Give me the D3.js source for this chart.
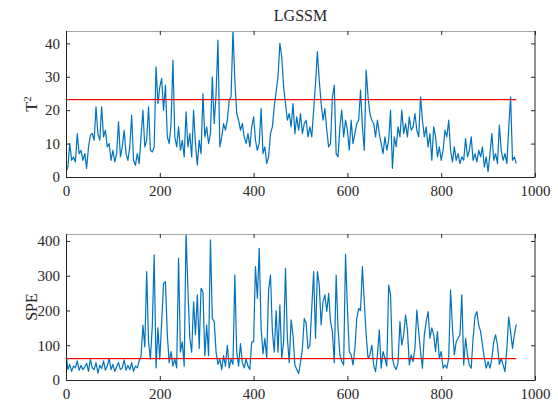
<!DOCTYPE html>
<html>
<head>
<meta charset="utf-8">
<script src="https://cdn.jsdelivr.net/npm/d3@7"></script>
<style>
  body { margin: 0; background: #fff; }
  text { font-family: "Liberation Serif", "Times New Roman", serif; fill: #262626; }
</style>
</head>
<body>
<svg id="chart"></svg>
<script>
// sample spacing of the values below (one value every 4 samples)
const sampleStep = 4;

// T^2 statistic, samples 0..960
const t2Values = [
  1.5, 3, 10, 5, 6, 4.5, 13, 7, 8, 5,
  7, 2.6, 9, 12.5, 13, 11, 21, 13, 11, 21,
  12, 14, 9, 10, 5, 8, 4.5, 7, 16.5, 6,
  9, 14, 7, 5, 9, 18.5, 5, 3.5, 7, 4,
  12, 20, 9, 11, 21, 8, 7.5, 9, 33, 22,
  27, 29.5, 20, 27.5, 12, 10, 16, 35, 12, 9,
  15, 8, 11, 6, 19.5, 9, 13, 6, 20, 10,
  3.6, 11, 7, 25, 12, 15, 10, 13, 30, 16,
  25, 41, 9, 12, 16, 14, 17, 23, 24, 44,
  29, 19, 17, 14, 16, 12, 10, 13, 9, 15,
  18, 11, 8, 10, 20.5, 7, 9, 4, 6, 13,
  15, 21, 25.5, 30, 40, 36, 27, 22, 17, 19,
  15, 22, 13, 18, 14, 19, 13, 16, 17, 12,
  15, 12, 20, 28, 37.5, 29, 22, 17, 20.5, 14,
  9, 10, 24, 27.5, 7, 6, 15, 20, 12, 17,
  14, 8, 17, 10, 13, 16, 17, 26, 15, 8,
  32, 24, 19, 17, 16, 12, 17, 13, 10, 7,
  12, 8, 11, 20, 2.6, 12, 9, 15, 12, 20,
  13, 16, 12, 18, 14, 15, 19, 14, 12, 24,
  17, 12, 15, 9, 13, 5, 15, 12, 6, 9,
  5, 8, 14, 12, 17, 8, 4.5, 9, 5, 7,
  4, 6, 5, 11.5, 6, 8, 12, 5, 7, 4.5,
  8, 6, 9, 3, 6, 1.6, 7, 13, 5, 7,
  4, 15.5, 8, 5, 7, 4, 14.6, 24, 5, 6,
  4
];

// SPE statistic, samples 0..960
const speValues = [
  80, 30, 45, 25, 40, 35, 55, 28, 42, 30,
  38, 48, 25, 60, 35, 30, 50, 20, 42, 33,
  55, 28, 40, 62, 30, 45, 25, 38, 50, 30,
  35, 58, 28, 42, 30, 50, 25, 40, 35, 55,
  67, 158, 95, 312, 110, 60, 155, 360, 35, 150,
  60, 168, 278, 283, 130, 50, 82, 40, 60, 35,
  350, 80, 110, 40, 425, 259, 120, 80, 225, 130,
  245, 91, 264, 254, 70, 158, 70, 403, 177, 168,
  80, 45, 60, 30, 70, 40, 100, 35, 60, 45,
  302, 80, 40, 105, 50, 35, 60, 40, 30, 110,
  110, 326, 235, 379, 150, 75, 120, 62, 260, 302,
  140, 80, 200, 80, 216, 62, 110, 321, 120, 50,
  173, 130, 43, 30, 19, 50, 90, 177, 163, 90,
  100, 206, 312, 120, 312, 273, 158, 225, 245, 197,
  249, 168, 139, 50, 302, 150, 72, 53, 43, 362,
  206, 82, 72, 43, 91, 177, 206, 200, 326, 225,
  130, 62, 72, 100, 43, 24, 72, 144, 34, 82,
  62, 40, 273, 245, 62, 40, 30, 50, 168, 100,
  130, 187, 144, 43, 72, 53, 91, 201, 139, 82,
  34, 130, 168, 197, 120, 150, 130, 82, 139, 62,
  82, 34, 43, 34, 62, 259, 149, 72, 110, 120,
  130, 245, 43, 120, 72, 43, 34, 120, 182, 197,
  158, 139, 100, 62, 34, 53, 34, 62, 110, 130,
  100, 45, 62, 43, 24, 91, 182, 139, 91, 130,
  160
];

const t2Limit = 23.2;
const speLimit = 62;

const xTicks = [0, 200, 400, 600, 800, 1000];
const t2Ticks = [0, 10, 20, 30, 40];
const speTicks = [0, 100, 200, 300, 400];

const width = 558, height = 405;
const plotLeft = 66, plotRight = 535;
const axisColor = "#262626";

const svg = d3.select("#chart")
    .attr("width", width)
    .attr("height", height);

const x = d3.scaleLinear().domain([0, 1000]).range([plotLeft, plotRight]);

function styleAxis(a) {
  a.attr("font-family", "Liberation Serif, Times New Roman, serif")
    .attr("font-size", 15);
  a.select(".domain").attr("stroke", axisColor);
  a.selectAll(".tick line").attr("stroke", axisColor);
  a.selectAll(".tick text").attr("fill", axisColor);
}

const limitLayer = [];

function drawPanel(values, limit, yMax, yTicks, top, bottom, id) {
  const y = d3.scaleLinear().domain([0, yMax]).range([bottom, top]);
  const g = svg.append("g");

  // clip so spikes are cut at the axes top
  svg.append("clipPath").attr("id", id)
    .append("rect")
    .attr("x", plotLeft).attr("y", top)
    .attr("width", plotRight - plotLeft).attr("height", bottom - top);

  const line = d3.line()
    .x((d, i) => x(i * sampleStep))
    .y(d => y(d));

  g.append("path")
    .datum(values)
    .attr("clip-path", `url(#${id})`)
    .attr("fill", "none")
    .attr("stroke", "#0072BD")
    .attr("stroke-width", 1.2)
    .attr("stroke-linejoin", "round")
    .attr("d", line);

  // box edges
  g.append("line")
    .attr("x1", plotLeft).attr("x2", plotRight)
    .attr("y1", top + 0.5).attr("y2", top + 0.5)
    .attr("stroke", "#a6a6a6");
  g.append("line")
    .attr("x1", plotRight).attr("x2", plotRight)
    .attr("y1", top).attr("y2", bottom)
    .attr("stroke", axisColor);

  // bottom axis with inward ticks
  g.append("g")
    .attr("transform", `translate(0,${bottom})`)
    .call(d3.axisBottom(x).tickValues(xTicks).tickFormat(d3.format("d"))
      .tickSizeInner(-4).tickSizeOuter(0).tickPadding(8))
    .call(styleAxis);

  // top mirrored ticks
  g.append("g")
    .attr("transform", `translate(0,${top})`)
    .call(d3.axisTop(x).tickValues(xTicks).tickSizeInner(-4).tickSizeOuter(0).tickFormat(""))
    .call(a => a.select(".domain").remove())
    .selectAll(".tick line").attr("stroke", axisColor);

  // left axis
  g.append("g")
    .attr("transform", `translate(${plotLeft},0)`)
    .call(d3.axisLeft(y).tickValues(yTicks).tickFormat(d3.format("d"))
      .tickSizeInner(-4).tickSizeOuter(0).tickPadding(6))
    .call(styleAxis);

  // right mirrored ticks
  g.append("g")
    .attr("transform", `translate(${plotRight},0)`)
    .call(d3.axisRight(y).tickValues(yTicks).tickSizeInner(-4).tickSizeOuter(0).tickFormat(""))
    .call(a => a.select(".domain").remove())
    .selectAll(".tick line").attr("stroke", axisColor);

  limitLayer.push({ y: Math.round(y(limit)), x2: x((values.length - 1) * sampleStep) });
}

drawPanel(t2Values, t2Limit, 43.7, t2Ticks, 31, 177, "clipT2");
drawPanel(speValues, speLimit, 420, speTicks, 234, 380, "clipSPE");

// control limit lines, drawn last
svg.append("g").selectAll("rect")
  .data(limitLayer)
  .join("rect")
  .attr("x", plotLeft)
  .attr("y", d => d.y)
  .attr("width", d => d.x2 - plotLeft)
  .attr("height", 1.2)
  .attr("fill", "rgb(255,0,0)");

// title
svg.append("text")
  .attr("x", (plotLeft + plotRight) / 2)
  .attr("y", 21)
  .attr("text-anchor", "middle")
  .style("font-size", "16px")
  .text("LGSSM");

// y labels
const t2Label = svg.append("text")
  .attr("transform", `translate(37,${(31 + 177) / 2}) rotate(-90)`)
  .attr("text-anchor", "middle")
  .style("font-size", "16px");
t2Label.append("tspan").text("T");
t2Label.append("tspan").attr("dy", -6).style("font-size", "11px").text("2");

svg.append("text")
  .attr("transform", `translate(37,${(234 + 380) / 2}) rotate(-90)`)
  .attr("text-anchor", "middle")
  .style("font-size", "16px")
  .text("SPE");
</script>
</body>
</html>
